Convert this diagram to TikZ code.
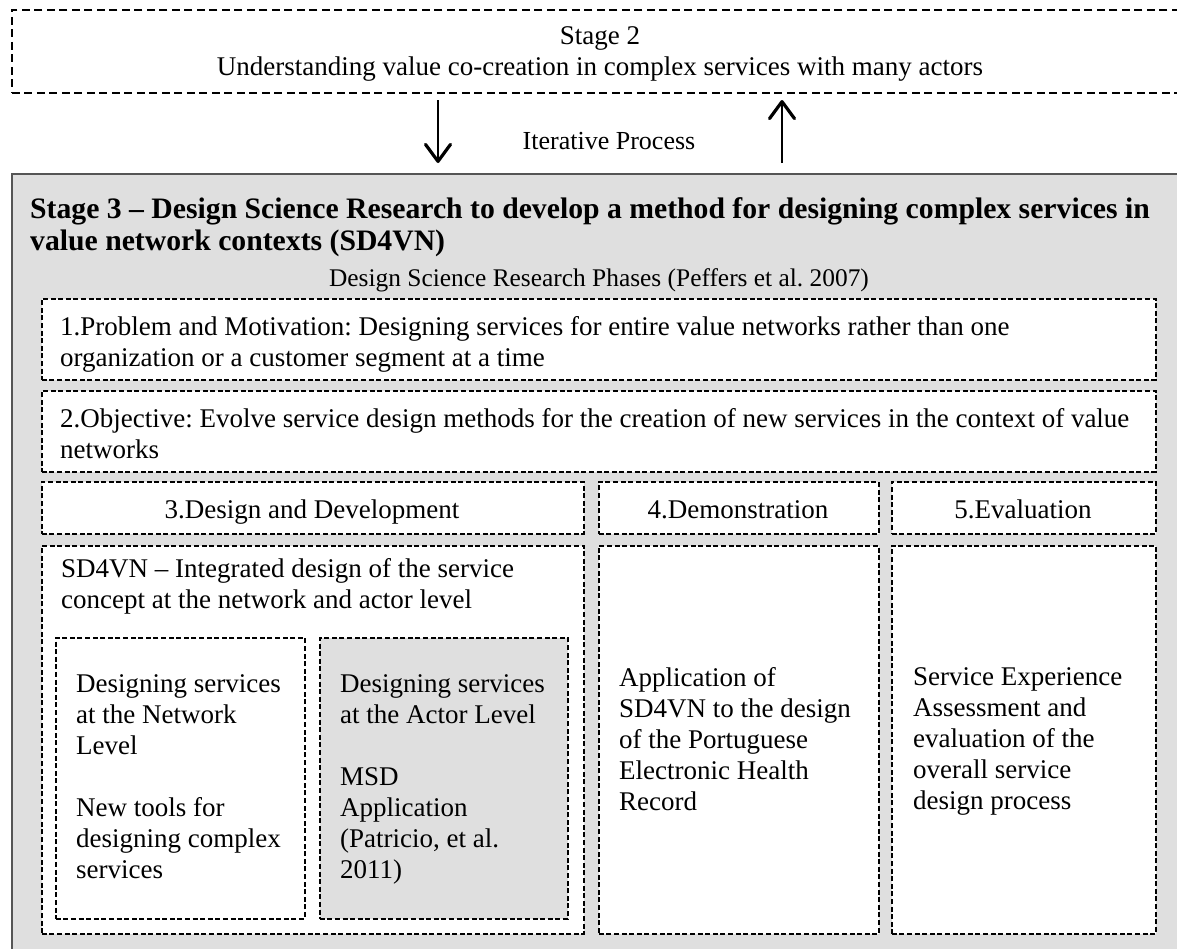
\documentclass[tikz,border=0pt]{standalone}
\usepackage{fontspec}
\setmainfont{Liberation Serif}
\usetikzlibrary{arrows.meta}
\definecolor{panelgray}{HTML}{DFDFDF}
\definecolor{framegray}{HTML}{555555}
\frenchspacing
\tikzset{
  body/.style={font=\fontsize{27}{31}\selectfont},
  txt/.style={body, inner sep=0pt, align=left, anchor=north west, execute at begin node=\strut},
  ctxt/.style={body, inner sep=0pt, anchor=base},
  stagebox/.style={draw, line width=1.6pt, dash pattern=on 8pt off 4.5pt, fill=white, anchor=north west, inner sep=0pt},
  phasebox/.style={draw, line width=1.5pt, dash pattern=on 5pt off 2.6pt, fill=white, anchor=north west, inner sep=0pt},
  panel/.style={draw=framegray, line width=2pt, fill=panelgray, anchor=north west, inner sep=0pt},
  flow/.style={line width=2.6pt, -{Straight Barb[length=17pt,width=25pt,line width=3.2pt,round]}},
}
\begin{document}
\begin{tikzpicture}[x=1pt,y=-1pt]
\useasboundingbox (0,0) rectangle (1177,948);
\clip (0,0) rectangle (1177,948);

% Stage 2 frame and text
\node[stagebox, minimum width=1180pt, minimum height=83pt] (s2) at (11,9) {};
\node[body, inner sep=0pt, align=center, anchor=north, execute at begin node=\strut] (s2t) at (600,26)
  {Stage 2\\Understanding value co-creation in complex services with many actors};

% Stage 3 panel
\node[panel, minimum width=1180pt, minimum height=800pt] (s3) at (11,173) {};

% Iteration arrows between the stages
\coordinate (dnA) at (438,100);
\coordinate (dnB) at (438,163);
\coordinate (upA) at (782,163);
\coordinate (upB) at (782,100);
\draw[flow] (dnA) -- (dnB);
\draw[flow] (upA) -- (upB);
\node[ctxt, font=\fontsize{26}{31}\selectfont] (iter) at (609,149) {Iterative Process};

% Stage 3 heading
\node[txt, font=\fontsize{29.7}{32}\selectfont\bfseries] (s3t) at (30,197.6)
  {Stage 3 -- Design Science Research to develop a method for designing complex services in\\value network contexts (SD4VN)};
\node[ctxt, font=\fontsize{25.4}{31}\selectfont] (dsrp) at (599,286) {Design Science Research Phases (Peffers et al. 2007)};

% Phases 1 and 2
\node[phasebox, minimum width=1114pt, minimum height=81pt] (p1) at (41,298) {};
\node[txt] (p1t) at (60,316.3)
  {1.Problem and Motivation: Designing services for entire value networks rather than one\\organization or a customer segment at a time};
\node[phasebox, minimum width=1114pt, minimum height=81pt] (p2) at (41,390) {};
\node[txt] (p2t) at (60,408.3)
  {2.Objective: Evolve service design methods for the creation of new services in the context of value\\networks};

% Phase headers 3, 4, 5
\node[phasebox, minimum width=542pt, minimum height=52pt] (h3) at (41,481) {};
\node[phasebox, minimum width=280pt, minimum height=52pt] (h4) at (598,481) {};
\node[phasebox, minimum width=264pt, minimum height=52pt] (h5) at (891,481) {};
\node[ctxt] (h3t) at (312,518) {3.Design and Development};
\node[ctxt] (h4t) at (738,518) {4.Demonstration};
\node[ctxt] (h5t) at (1023,518) {5.Evaluation};

% Phase contents
\node[phasebox, minimum width=542pt, minimum height=388pt] (c3) at (41,545) {};
\node[phasebox, minimum width=280pt, minimum height=388pt] (c4) at (598,545) {};
\node[phasebox, minimum width=264pt, minimum height=388pt] (c5) at (891,545) {};

\node[txt] (c3t) at (61,558.3)
  {SD4VN -- Integrated design of the service\\concept at the network and actor level};

\node[phasebox, minimum width=249pt, minimum height=281pt] (net) at (55,637) {};
\node[phasebox, fill=panelgray, minimum width=248pt, minimum height=281pt] (act) at (319,637) {};
\node[txt] (nett) at (76,674.3)
  {Designing services\\at the Network\\Level\\[31pt]New tools for\\designing complex\\services};
\node[txt] (actt) at (340,674.3)
  {Designing services\\at the Actor Level\\[31pt]MSD\\Application\\(Patricio, et al.\\2011)};

\node[txt] (c4t) at (619,667.3)
  {Application of\\SD4VN to the design\\of the Portuguese\\Electronic Health\\Record};
\node[txt] (c5t) at (913,667.3)
  {Service Experience\\Assessment and\\evaluation of the\\overall service\\design process};
\end{tikzpicture}
\end{document}
